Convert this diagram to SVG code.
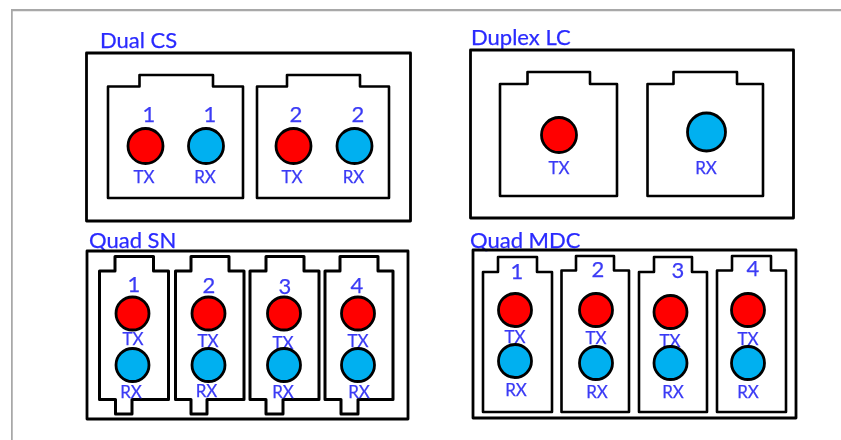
<svg xmlns="http://www.w3.org/2000/svg" width="841" height="440" viewBox="0 0 841 440">
<style>
text{font-family:"Lato","Liberation Sans",sans-serif;fill:#3a3af5;stroke:#3a3af5;stroke-width:0.25;text-anchor:middle}
.title{font-size:22px;text-anchor:start;fill:#2a2aff;stroke:#2a2aff}
.num{font-size:22px}
.lab{font-size:17px}
.box,.port{fill:none;stroke:#000;stroke-linejoin:round}
.box{stroke-width:2.8}
.port{stroke-width:2.6;fill:#fff}
.sn{stroke-width:3}
.tx{fill:#f00;stroke:#000;stroke-width:2.8}
.rx{fill:#00b0f0;stroke:#000;stroke-width:2.8}
</style>
<defs><filter id="soft" x="0" y="0" width="100%" height="100%"><feGaussianBlur stdDeviation="0.45"/></filter></defs>
<rect width="841" height="440" fill="#fff"/>
<g filter="url(#soft)">
<path d="M11 440V9.500H841" fill="none" stroke="#a8a8a8" stroke-width="3.500"/>

<g id="dual-cs">
<text class="title" x="100" y="48">Dual CS</text>
<rect class="box" x="86.500" y="53" width="324" height="168"/>
<path class="port" d="M108 198V86.500H139.500V75H213V86.500H243V198Z"/>
<path class="port" d="M257 198V86.500H287V75H360V86.500H389V198Z"/>
<text class="num" x="149" y="122">1</text><text class="num" x="210" y="122">1</text>
<text class="num" x="296" y="122">2</text><text class="num" x="358" y="122">2</text>
<circle class="tx" cx="145.500" cy="146" r="17.500"/><circle class="rx" cx="206" cy="146" r="17.500"/>
<circle class="tx" cx="293.500" cy="146" r="17.500"/><circle class="rx" cx="354.500" cy="146" r="17.500"/>
<text class="lab" x="144" y="183">TX</text><text class="lab" x="205" y="183">RX</text>
<text class="lab" x="292" y="183">TX</text><text class="lab" x="353.500" y="183">RX</text>
</g>

<g id="duplex-lc">
<text class="title" x="471" y="45">Duplex LC</text>
<rect class="box" x="470.500" y="50" width="323" height="168"/>
<path class="port" d="M500 196V84H527.500V72H590V84H617V196Z"/>
<path class="port" d="M647.500 196V84H673.500V72H737V84H763V196Z"/>
<circle class="tx" cx="559" cy="135" r="17.500"/><circle class="rx" cx="706.500" cy="132" r="19"/>
<text class="lab" x="559" y="174">TX</text><text class="lab" x="706" y="174">RX</text>
</g>

<g id="quad-sn">
<text class="title" x="89" y="248">Quad SN</text>
<rect class="box" x="87" y="251" width="321" height="168"/>
<path class="port sn" d="M99.500 399.500V271H115V256.500H153.500V271H168.500V399.500H132V414H115.500V399.500Z"/>
<path class="port sn" d="M175.500 399.500V271H191V256.500H229V271H244V399.500H207V414H191V399.500Z"/>
<path class="port sn" d="M250 399.500V271H266V256.500H304V271H319V399.500H283V414H266V399.500Z"/>
<path class="port sn" d="M325 399.500V271H340V256.500H378V271H393V399.500H358V414H341V399.500Z"/>
<text class="num" x="134" y="292">1</text><text class="num" x="209" y="293">2</text>
<text class="num" x="285" y="294">3</text><text class="num" x="357" y="293">4</text>
<text class="lab" x="133" y="345">TX</text><text class="lab" x="208" y="347">TX</text>
<text class="lab" x="283" y="349">TX</text><text class="lab" x="358" y="347">TX</text>
<circle class="tx" cx="132.500" cy="313.500" r="16.500"/><circle class="rx" cx="132.500" cy="365" r="16.500"/>
<circle class="tx" cx="208.500" cy="313.500" r="16.500"/><circle class="rx" cx="208.500" cy="365" r="16.500"/>
<circle class="tx" cx="284" cy="313.500" r="16.500"/><circle class="rx" cx="284" cy="365" r="16.500"/>
<circle class="tx" cx="358" cy="313.500" r="16.500"/><circle class="rx" cx="358" cy="365" r="16.500"/>
<text class="lab" x="131" y="398">RX</text><text class="lab" x="206.500" y="397">RX</text>
<text class="lab" x="283" y="398">RX</text><text class="lab" x="359" y="398">RX</text>
</g>

<g id="quad-mdc">
<text class="title" x="470" y="248">Quad MDC</text>
<rect class="box" x="473" y="250" width="323" height="168"/>
<path class="port" d="M483 412V272H498V257H537V272H552V412Z"/>
<path class="port" d="M561.500 412V270.500H576V256H614V270.500H629V412Z"/>
<path class="port" d="M639 412V272H654V257H692V272H707V412Z"/>
<path class="port" d="M717 412V270.500H732V256H771V270.500H786V412Z"/>
<text class="num" x="517" y="279">1</text><text class="num" x="598" y="277">2</text>
<text class="num" x="678" y="278">3</text><text class="num" x="753" y="276">4</text>
<text class="lab" x="515" y="343">TX</text><text class="lab" x="596" y="344">TX</text>
<text class="lab" x="670" y="347">TX</text><text class="lab" x="748" y="345">TX</text>
<circle class="tx" cx="515" cy="310" r="16.500"/><circle class="rx" cx="515" cy="361" r="16.500"/>
<circle class="tx" cx="596" cy="310" r="16.500"/><circle class="rx" cx="596" cy="363" r="16.500"/>
<circle class="tx" cx="670.500" cy="312" r="16.500"/><circle class="rx" cx="670.500" cy="363" r="16.500"/>
<circle class="tx" cx="748" cy="310" r="16.500"/><circle class="rx" cx="748" cy="363" r="16.500"/>
<text class="lab" x="516" y="396">RX</text><text class="lab" x="597" y="398">RX</text>
<text class="lab" x="673" y="398">RX</text><text class="lab" x="748" y="398">RX</text>
</g>
</g>
</svg>
